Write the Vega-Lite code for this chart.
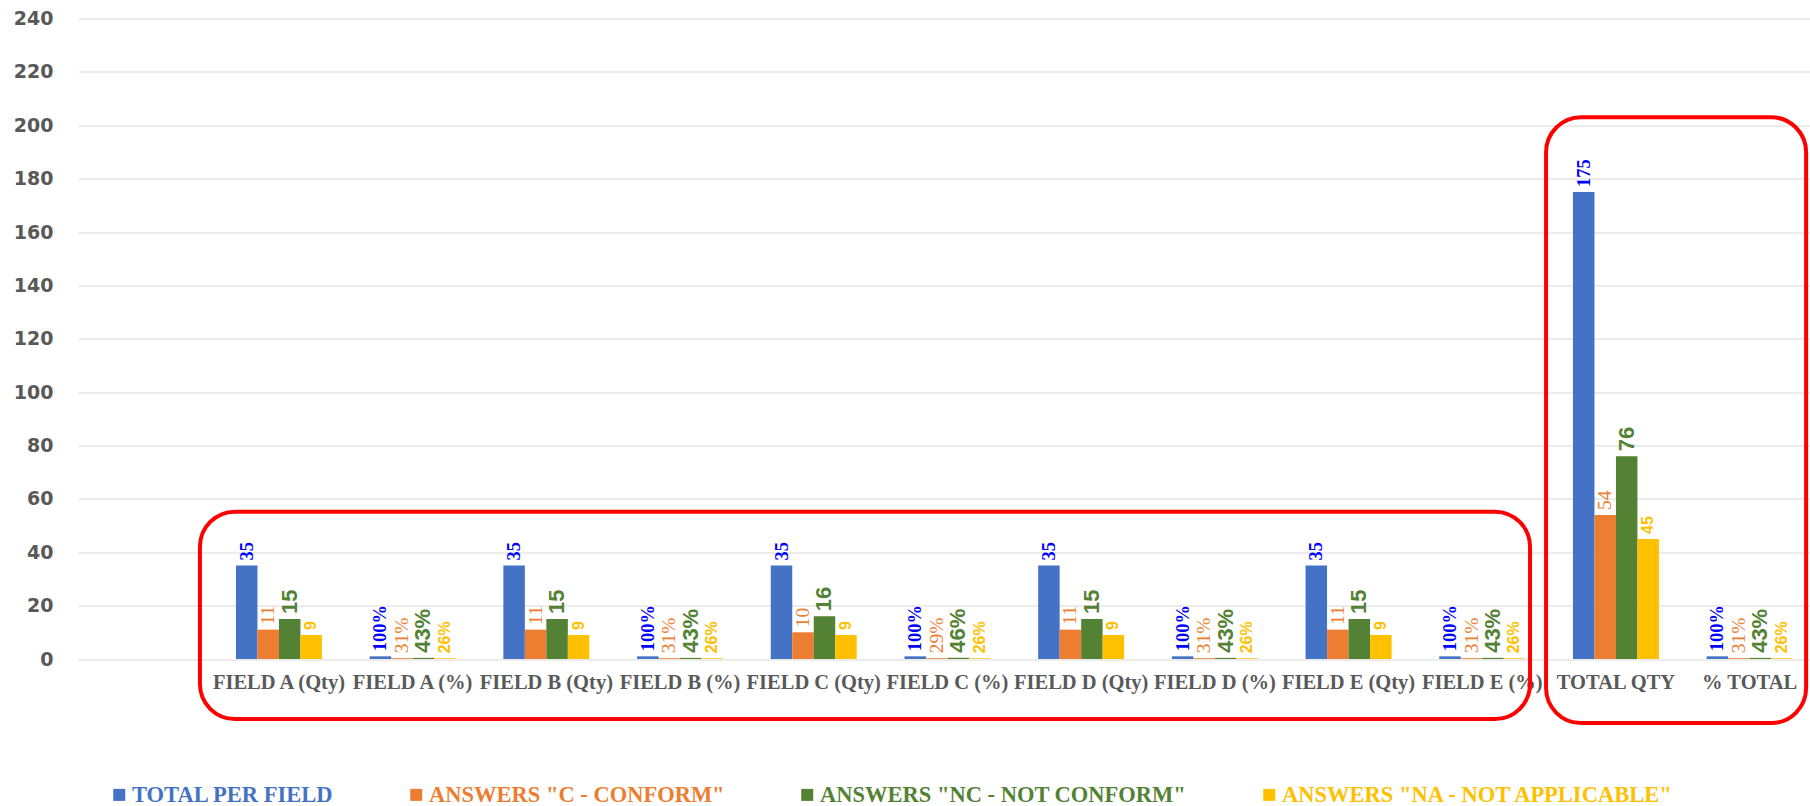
{
  "$schema": "https://vega.github.io/schema/vega-lite/v6.json",
  "width": 1732,
  "height": 640.5,
  "autosize": "none",
  "padding": {"left": 78, "top": 18.5, "right": 0, "bottom": 147},
  "background": "white",
  "config": {"view": {"stroke": null}},
  "datasets": {
    "bars": [
      {"category": "FIELD A (Qty)", "series": "TOTAL PER FIELD", "value": 35, "label": "35"},
      {"category": "FIELD A (Qty)", "series": "ANSWERS \"C - CONFORM\"", "value": 11, "label": "11"},
      {"category": "FIELD A (Qty)", "series": "ANSWERS \"NC - NOT CONFORM\"", "value": 15, "label": "15"},
      {"category": "FIELD A (Qty)", "series": "ANSWERS \"NA - NOT APPLICABLE\"", "value": 9, "label": "9"},
      {"category": "FIELD A (%)", "series": "TOTAL PER FIELD", "value": 1, "label": "100%"},
      {"category": "FIELD A (%)", "series": "ANSWERS \"C - CONFORM\"", "value": 0.31, "label": "31%"},
      {"category": "FIELD A (%)", "series": "ANSWERS \"NC - NOT CONFORM\"", "value": 0.43, "label": "43%"},
      {"category": "FIELD A (%)", "series": "ANSWERS \"NA - NOT APPLICABLE\"", "value": 0.26, "label": "26%"},
      {"category": "FIELD B (Qty)", "series": "TOTAL PER FIELD", "value": 35, "label": "35"},
      {"category": "FIELD B (Qty)", "series": "ANSWERS \"C - CONFORM\"", "value": 11, "label": "11"},
      {"category": "FIELD B (Qty)", "series": "ANSWERS \"NC - NOT CONFORM\"", "value": 15, "label": "15"},
      {"category": "FIELD B (Qty)", "series": "ANSWERS \"NA - NOT APPLICABLE\"", "value": 9, "label": "9"},
      {"category": "FIELD B (%)", "series": "TOTAL PER FIELD", "value": 1, "label": "100%"},
      {"category": "FIELD B (%)", "series": "ANSWERS \"C - CONFORM\"", "value": 0.31, "label": "31%"},
      {"category": "FIELD B (%)", "series": "ANSWERS \"NC - NOT CONFORM\"", "value": 0.43, "label": "43%"},
      {"category": "FIELD B (%)", "series": "ANSWERS \"NA - NOT APPLICABLE\"", "value": 0.26, "label": "26%"},
      {"category": "FIELD C (Qty)", "series": "TOTAL PER FIELD", "value": 35, "label": "35"},
      {"category": "FIELD C (Qty)", "series": "ANSWERS \"C - CONFORM\"", "value": 10, "label": "10"},
      {"category": "FIELD C (Qty)", "series": "ANSWERS \"NC - NOT CONFORM\"", "value": 16, "label": "16"},
      {"category": "FIELD C (Qty)", "series": "ANSWERS \"NA - NOT APPLICABLE\"", "value": 9, "label": "9"},
      {"category": "FIELD C (%)", "series": "TOTAL PER FIELD", "value": 1, "label": "100%"},
      {"category": "FIELD C (%)", "series": "ANSWERS \"C - CONFORM\"", "value": 0.29, "label": "29%"},
      {"category": "FIELD C (%)", "series": "ANSWERS \"NC - NOT CONFORM\"", "value": 0.46, "label": "46%"},
      {"category": "FIELD C (%)", "series": "ANSWERS \"NA - NOT APPLICABLE\"", "value": 0.26, "label": "26%"},
      {"category": "FIELD D (Qty)", "series": "TOTAL PER FIELD", "value": 35, "label": "35"},
      {"category": "FIELD D (Qty)", "series": "ANSWERS \"C - CONFORM\"", "value": 11, "label": "11"},
      {"category": "FIELD D (Qty)", "series": "ANSWERS \"NC - NOT CONFORM\"", "value": 15, "label": "15"},
      {"category": "FIELD D (Qty)", "series": "ANSWERS \"NA - NOT APPLICABLE\"", "value": 9, "label": "9"},
      {"category": "FIELD D (%)", "series": "TOTAL PER FIELD", "value": 1, "label": "100%"},
      {"category": "FIELD D (%)", "series": "ANSWERS \"C - CONFORM\"", "value": 0.31, "label": "31%"},
      {"category": "FIELD D (%)", "series": "ANSWERS \"NC - NOT CONFORM\"", "value": 0.43, "label": "43%"},
      {"category": "FIELD D (%)", "series": "ANSWERS \"NA - NOT APPLICABLE\"", "value": 0.26, "label": "26%"},
      {"category": "FIELD E (Qty)", "series": "TOTAL PER FIELD", "value": 35, "label": "35"},
      {"category": "FIELD E (Qty)", "series": "ANSWERS \"C - CONFORM\"", "value": 11, "label": "11"},
      {"category": "FIELD E (Qty)", "series": "ANSWERS \"NC - NOT CONFORM\"", "value": 15, "label": "15"},
      {"category": "FIELD E (Qty)", "series": "ANSWERS \"NA - NOT APPLICABLE\"", "value": 9, "label": "9"},
      {"category": "FIELD E (%)", "series": "TOTAL PER FIELD", "value": 1, "label": "100%"},
      {"category": "FIELD E (%)", "series": "ANSWERS \"C - CONFORM\"", "value": 0.31, "label": "31%"},
      {"category": "FIELD E (%)", "series": "ANSWERS \"NC - NOT CONFORM\"", "value": 0.43, "label": "43%"},
      {"category": "FIELD E (%)", "series": "ANSWERS \"NA - NOT APPLICABLE\"", "value": 0.26, "label": "26%"},
      {"category": "TOTAL QTY", "series": "TOTAL PER FIELD", "value": 175, "label": "175"},
      {"category": "TOTAL QTY", "series": "ANSWERS \"C - CONFORM\"", "value": 54, "label": "54"},
      {"category": "TOTAL QTY", "series": "ANSWERS \"NC - NOT CONFORM\"", "value": 76, "label": "76"},
      {"category": "TOTAL QTY", "series": "ANSWERS \"NA - NOT APPLICABLE\"", "value": 45, "label": "45"},
      {"category": "% TOTAL", "series": "TOTAL PER FIELD", "value": 1, "label": "100%"},
      {"category": "% TOTAL", "series": "ANSWERS \"C - CONFORM\"", "value": 0.31, "label": "31%"},
      {"category": "% TOTAL", "series": "ANSWERS \"NC - NOT CONFORM\"", "value": 0.43, "label": "43%"},
      {"category": "% TOTAL", "series": "ANSWERS \"NA - NOT APPLICABLE\"", "value": 0.26, "label": "26%"}
    ],
    "boxes": [
      {"box": "fields", "x0": 0.912, "x1": 10.86, "top": 55.2, "bottom": -22.5},
      {"box": "totals", "x0": 10.98, "x1": 12.925, "top": 203, "bottom": -24}
    ]
  },
  "layer": [
    {
      "data": {"name": "bars"},
      "layer": [
        {
          "mark": {"type": "bar"},
          "encoding": {
            "x": {
              "field": "category", "type": "nominal", "title": null,
              "scale": {
                "domain": ["FIELD A (Qty)", "FIELD A (%)", "FIELD B (Qty)", "FIELD B (%)", "FIELD C (Qty)", "FIELD C (%)", "FIELD D (Qty)", "FIELD D (%)", "FIELD E (Qty)", "FIELD E (%)", "TOTAL QTY", "% TOTAL"],
                "paddingInner": 0.357, "paddingOuter": 0.6556, "align": 0.901
              },
              "axis": {
                "labelFont": "Liberation Serif", "labelFontWeight": "bold", "labelFontSize": 20.5,
                "labelColor": "#595959", "ticks": false, "tickSize": 0, "domain": false, "grid": false,
                "labelPadding": 13, "labelAngle": 0, "labelOverlap": false, "labelLimit": 300
              }
            },
            "xOffset": {
              "field": "series", "type": "nominal",
              "scale": {
                "domain": ["TOTAL PER FIELD", "ANSWERS \"C - CONFORM\"", "ANSWERS \"NC - NOT CONFORM\"", "ANSWERS \"NA - NOT APPLICABLE\""],
                "paddingInner": 0, "paddingOuter": 0
              }
            },
            "y": {
              "field": "value", "type": "quantitative", "title": null,
              "scale": {"domain": [0, 240], "nice": false, "zero": true},
              "axis": {
                "values": [0, 20, 40, 60, 80, 100, 120, 140, 160, 180, 200, 220, 240],
                "labelFont": "DejaVu Sans", "labelFontWeight": "bold", "labelFontSize": 19,
                "labelColor": "#595959", "ticks": false, "tickSize": 0, "domain": false,
                "grid": true, "gridColor": "#D9D9D9", "gridWidth": 1, "labelPadding": 25
              }
            },
            "color": {
              "field": "series", "type": "nominal",
              "scale": {
                "domain": ["TOTAL PER FIELD", "ANSWERS \"C - CONFORM\"", "ANSWERS \"NC - NOT CONFORM\"", "ANSWERS \"NA - NOT APPLICABLE\""],
                "range": ["#4472C4", "#ED7D31", "#548235", "#FFC000"]
              },
              "legend": {
                "orient": "none", "legendX": 30, "legendY": 765, "direction": "horizontal", "title": null,
                "symbolType": "square", "symbolSize": 144, "symbolStrokeWidth": 0,
                "labelFont": "Liberation Serif", "labelFontWeight": "bold", "labelFontSize": 22.5,
                "labelLimit": 0, "labelOffset": 1.5, "columnPadding": 71,
                "encode": {"labels": {"update": {"fill": {"scale": "color", "field": "value"}}}}
              }
            }
          }
        },
        {
          "transform": [{"filter": {"field": "series", "equal": "TOTAL PER FIELD"}}],
          "mark": {"type": "text", "angle": 270, "align": "left", "baseline": "middle", "dx": 5, "font": "Liberation Serif", "fontWeight": "bold", "fontSize": 18.5, "fill": "#0000FF"},
          "encoding": {
            "x": {"field": "category", "type": "nominal"},
            "xOffset": {"field": "series", "type": "nominal"},
            "y": {"field": "value", "type": "quantitative"},
            "text": {"field": "label"}
          }
        },
        {
          "transform": [{"filter": {"field": "series", "equal": "ANSWERS \"C - CONFORM\""}}],
          "mark": {"type": "text", "angle": 270, "align": "left", "baseline": "middle", "dx": 5, "font": "Liberation Serif", "fontWeight": "normal", "fontSize": 19.5, "fill": "#ED7D31"},
          "encoding": {
            "x": {"field": "category", "type": "nominal"},
            "xOffset": {"field": "series", "type": "nominal"},
            "y": {"field": "value", "type": "quantitative"},
            "text": {"field": "label"}
          }
        },
        {
          "transform": [{"filter": {"field": "series", "equal": "ANSWERS \"NC - NOT CONFORM\""}}],
          "mark": {"type": "text", "angle": 270, "align": "left", "baseline": "middle", "dx": 5, "font": "Liberation Sans", "fontWeight": "bold", "fontSize": 22, "fill": "#548235"},
          "encoding": {
            "x": {"field": "category", "type": "nominal"},
            "xOffset": {"field": "series", "type": "nominal"},
            "y": {"field": "value", "type": "quantitative"},
            "text": {"field": "label"}
          }
        },
        {
          "transform": [{"filter": {"field": "series", "equal": "ANSWERS \"NA - NOT APPLICABLE\""}}],
          "mark": {"type": "text", "angle": 270, "align": "left", "baseline": "middle", "dx": 5, "font": "Liberation Sans", "fontWeight": "bold", "fontSize": 16, "fill": "#FFC000"},
          "encoding": {
            "x": {"field": "category", "type": "nominal"},
            "xOffset": {"field": "series", "type": "nominal"},
            "y": {"field": "value", "type": "quantitative"},
            "text": {"field": "label"}
          }
        }
      ]
    },
    {
      "data": {"name": "boxes"},
      "mark": {"type": "rect", "filled": false, "stroke": "#FF0000", "strokeWidth": 4, "cornerRadius": 35, "clip": false},
      "encoding": {
        "x": {"field": "x0", "type": "quantitative", "scale": {"domain": [0, 12.954], "nice": false, "zero": false}, "axis": null},
        "x2": {"field": "x1"},
        "y": {"field": "top", "type": "quantitative", "scale": {"domain": [0, 240], "nice": false, "zero": false}, "axis": null},
        "y2": {"field": "bottom"}
      }
    }
  ],
  "resolve": {"scale": {"x": "independent", "y": "independent"}}
}
